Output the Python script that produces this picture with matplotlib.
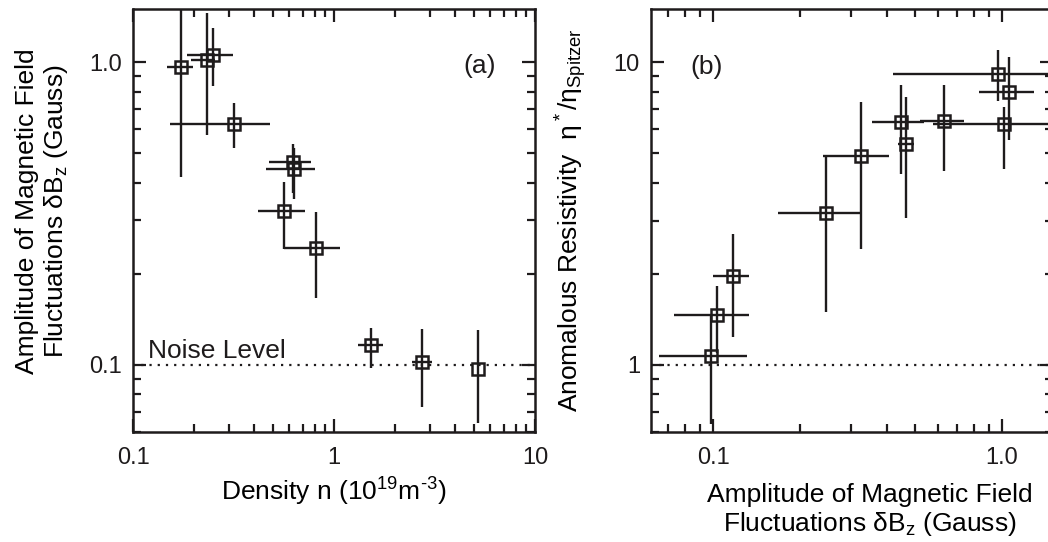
import numpy as np
import matplotlib
matplotlib.use("Agg")
import matplotlib.pyplot as plt
from matplotlib.ticker import LogLocator, NullFormatter

# --- panel (a): density vs dBz ---
dens = np.array([0.173, 0.233, 0.251, 0.318, 0.623, 0.632, 0.567, 0.814, 1.535, 2.75, 5.19])
dens_lo = np.array([0.148, 0.194, 0.186, 0.153, 0.473, 0.459, 0.418, 0.567, 1.312, 2.435, 5.19])
dens_hi = np.array([0.199, 0.256, 0.315, 0.480, 0.766, 0.804, 0.720, 1.071, 1.759, 3.06, 5.19])
dbz = np.array([0.965, 1.015, 1.055, 0.624, 0.468, 0.445, 0.323, 0.243, 0.116, 0.102, 0.097])
dbz_lo = np.array([0.417, 0.574, 0.833, 0.519, 0.370, 0.352, 0.242, 0.166, 0.098, 0.0725, 0.0642])
dbz_hi = np.array([1.6, 1.451, 1.295, 0.734, 0.536, 0.520, 0.403, 0.321, 0.132, 0.1315, 0.130])

# --- panel (b): dBz vs anomalous resistivity ---
dbz_b = np.array([0.0984, 0.103, 0.117, 0.2455, 0.3245, 0.447, 0.464, 0.63, 0.966, 1.06, 1.016])
dbz_b_lo = np.array([0.0652, 0.0733, 0.1002, 0.1683, 0.2408, 0.354, 0.435, 0.52, 0.4185, 0.8324, 0.576])
dbz_b_hi = np.array([0.1308, 0.1335, 0.1335, 0.3226, 0.407, 0.537, 0.494, 0.739, 1.6, 1.293, 1.6])
eta = np.array([1.071, 1.461, 1.97, 3.17, 4.91, 6.33, 5.38, 6.38, 9.175, 7.95, 6.25])
eta_lo = np.array([0.636, 1.098, 1.238, 1.49, 2.42, 4.26, 3.06, 4.37, 7.43, 5.55, 4.45])
eta_hi = np.array([1.472, 1.826, 2.71, 4.9, 7.38, 8.39, 7.67, 8.39, 10.96, 10.41, 7.11])

noise_level = 0.1
eta_ref = 1.0

ink = '#1e1b1c'
plt.rcParams['font.family'] = ['Liberation Sans', 'DejaVu Sans']
plt.rcParams['mathtext.fontset'] = 'custom'
plt.rcParams['mathtext.rm'] = 'Liberation Sans'
plt.rcParams['mathtext.it'] = 'Liberation Sans'
plt.rcParams['mathtext.sf'] = 'Liberation Sans'
plt.rcParams['mathtext.bf'] = 'Liberation Sans:bold'
plt.rcParams['text.color'] = ink
plt.rcParams['axes.edgecolor'] = ink

W, H = 1048, 542
fig = plt.figure(figsize=(W / 100, H / 100), dpi=100)
ax1 = fig.add_axes([133 / W, 110 / H, 402 / W, 423 / H])
ax2 = fig.add_axes([651 / W, 110 / H, 402 / W, 423 / H])


def style(ax):
    ax.set_xscale('log')
    ax.set_yscale('log')
    for s in ax.spines.values():
        s.set_linewidth(1.8)
        s.set_color(ink)
    ax.tick_params(which='both', direction='in', top=True, right=True,
                   colors=ink, width=1.6)
    ax.tick_params(which='major', length=9.2, labelsize=17)
    ax.tick_params(which='minor', length=6)
    ax.tick_params(axis='x', which='major', pad=11)
    ax.tick_params(axis='y', which='major', pad=8)
    for a in (ax.xaxis, ax.yaxis):
        a.set_minor_locator(LogLocator(base=10, subs=np.arange(2, 10)))
        a.set_minor_formatter(NullFormatter())


def points(ax, x, xlo, xhi, y, ylo, yhi):
    ax.errorbar(x, y, xerr=[x - xlo, xhi - x], yerr=[y - ylo, yhi - y],
                fmt='s', mfc='none', mec=ink, ms=9.3, mew=1.8,
                ecolor=ink, elinewidth=1.7, capsize=0, zorder=3)


# panel (a)
style(ax1)
points(ax1, dens, dens_lo, dens_hi, dbz, dbz_lo, dbz_hi)
ax1.axhline(noise_level, color=ink, lw=1.6, ls=(0, (1, 2.7)))
ax1.set_xlim(0.1, 10)
ax1.set_ylim(0.06, 1.5)
ax1.set_xticks([0.1, 1, 10])
ax1.set_xticklabels(['0.1', '1', '10'])
ax1.set_yticks([0.1, 1.0])
ax1.set_yticklabels(['0.1', '1.0'])
ax1.set_xlabel('Density n (10$^{19}$m$^{\u2010 3}$)', fontsize=19)
ax1.xaxis.set_label_coords(0.5, -0.104)
ax1.set_ylabel('Amplitude of Magnetic Field\n' + r'Fluctuations $\delta$B$_z$ (Gauss)',
               fontsize=19, linespacing=1.15)
ax1.yaxis.set_label_coords(-0.157, 0.522)
ax1.text(0.0373, 0.175, 'Noise Level', transform=ax1.transAxes, fontsize=19,
         ha='left', va='baseline')
ax1.text(0.863, 0.866, '(a)', transform=ax1.transAxes, fontsize=19,
         ha='center', va='center')

# panel (b)
style(ax2)
points(ax2, dbz_b, dbz_b_lo, dbz_b_hi, eta, eta_lo, eta_hi)
ax2.axhline(eta_ref, color=ink, lw=1.6, ls=(0, (1, 2.7)))
ax2.set_xlim(0.061, 1.5)
ax2.set_ylim(0.6, 15)
ax2.set_xticks([0.1, 1.0])
ax2.set_xticklabels(['0.1', '1.0'])
ax2.set_yticks([1, 10])
ax2.set_yticklabels(['1', '10'])
ax2.set_xlabel('Amplitude of Magnetic Field\n' + r'Fluctuations $\delta$B$_z$ (Gauss)',
               fontsize=19, linespacing=1.15)
ax2.xaxis.set_label_coords(0.545, -0.120)
ax2.set_ylabel(r'Anomalous Resistivity  $\eta^*/\eta_{\rm Spitzer}$', fontsize=19)
ax2.yaxis.set_label_coords(-0.154, 0.501)
ax2.text(0.137, 0.863, '(b)', transform=ax2.transAxes, fontsize=19,
         ha='center', va='center')

fig.savefig('out.png', dpi=100)
